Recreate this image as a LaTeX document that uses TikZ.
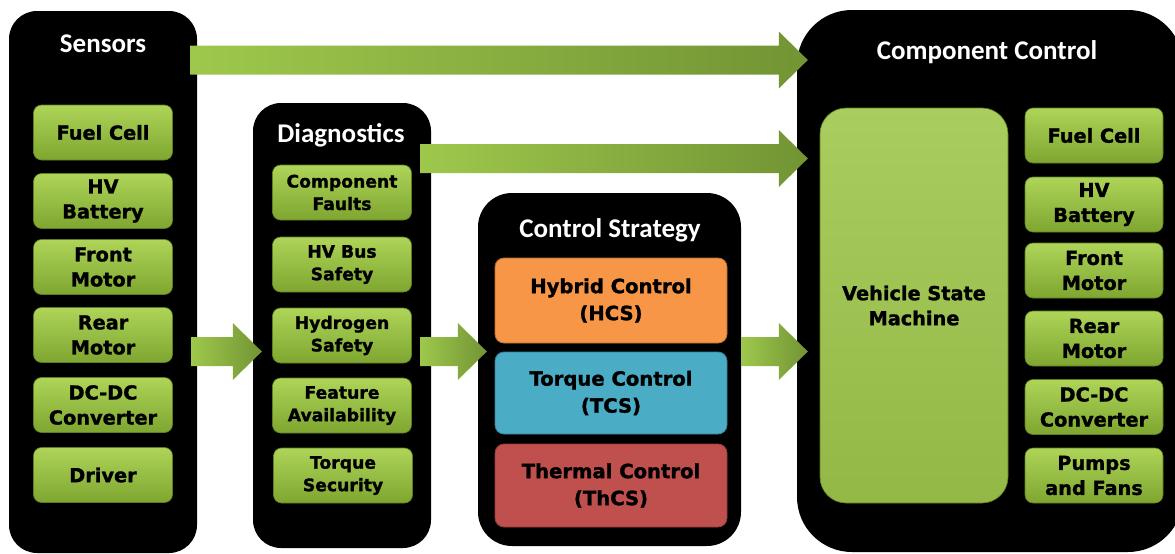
\documentclass[tikz,border=0pt]{standalone}
\usepackage{fontspec}
\usepackage{tikz}
\usetikzlibrary{calc,positioning}
\newfontfamily\titlefont{Carlito}
\newfontfamily\boxfont{DejaVu Sans}[BoldFeatures={FakeBold=1.4}]
\definecolor{boxtop}{RGB}{174,212,88}
\definecolor{boxbot}{RGB}{126,166,48}
\definecolor{vsmgreen}{RGB}{160,200,76}
\definecolor{arrowleft}{RGB}{158,200,76}
\definecolor{arrowright}{RGB}{114,148,52}
\definecolor{hcsorange}{RGB}{247,150,70}
\definecolor{tcsblue}{RGB}{75,172,198}
\definecolor{thcsred}{RGB}{192,80,77}
\newcommand{\boxtxt}{\boxfont\bfseries\fontsize{19.3}{25}\selectfont}
\newcommand{\diagtxt}{\boxfont\bfseries\fontsize{17.2}{22.5}\selectfont}
\newcommand{\strattxt}{\boxfont\bfseries\fontsize{19.6}{27}\selectfont}
% fat green arrow from #1 to its tip #2
\newcommand{\bigarrow}[2]{
\shade[left color=arrowleft, right color=arrowright] let \p1=(#1), \p2=(#2) in
  (\x1,\y1+14.5pt) -- (\x2-29pt,\y1+14.5pt) -- (\x2-29pt,\y1+28.5pt) -- (\x2,\y1)
  -- (\x2-29pt,\y1-28.5pt) -- (\x2-29pt,\y1-14.5pt) -- (\x1,\y1-14.5pt) -- cycle;
}

\begin{document}
\begin{tikzpicture}[x=1pt,y=-1pt,
                    panel/.style={fill=black, inner sep=0pt, rounded corners=28pt},
                    paneltitle/.style={text=white, anchor=base, inner sep=0pt,
                                       font=\titlefont\bfseries\fontsize{27}{30}\selectfont},
                    greenbox/.style={top color=boxtop, bottom color=boxbot, draw=boxbot!75!black,
                                     line width=0.6pt, rounded corners=8pt, inner sep=0pt,
                                     minimum width=139pt, minimum height=55pt,
                                     align=center, font=\boxtxt},
                    diagbox/.style={greenbox, font=\diagtxt},
                    stratbox/.style={draw=#1!75!black, fill=#1, line width=0.8pt, rounded corners=9pt,
                                     inner sep=0pt, minimum width=232pt, minimum height=83pt,
                                     align=center, font=\strattxt},
                   ]

\useasboundingbox (0,0) rectangle (1175,554);

% the four panels
\node[panel, minimum width=188pt, minimum height=542pt] (sensors) at (103,282) {};
\node[panel, minimum width=178pt, minimum height=445pt] (diag) at (342,325.5) {};
\node[panel, minimum width=263pt, minimum height=353pt, rounded corners=34pt] (strat) at (609.5,369.5) {};
\node[panel, minimum width=386pt, minimum height=542pt, rounded corners=55pt] (comp) at (990,281) {};

\node[paneltitle] (sensorstitle) at (103,52) {Sensors};
\node[paneltitle] (diagtitle) at (341,142) {Diagnostics};
\node[paneltitle] (strattitle) at (610,237) {Control Strategy};
\node[paneltitle] (comptitle) at (987,59) {Component Control};

% sensors
\node[greenbox] (sfc) at (103,132.5) {Fuel Cell};
\node[greenbox] (shv) at (103,201) {HV\\Battery};
\node[greenbox] (sfm) at (103,267) {Front\\Motor};
\node[greenbox] (srm) at (103,335) {Rear\\Motor};
\node[greenbox] (sdc) at (103,405) {DC-DC\\Converter};
\node[greenbox] (sdr) at (103,475) {Driver};

% diagnostics
\node[diagbox] (dcf) at (342,192.5) {Component\\Faults};
\node[diagbox] (dhv) at (342,264.5) {HV Bus\\Safety};
\node[diagbox] (dhs) at (342,335.5) {Hydrogen\\Safety};
\node[diagbox] (dfa) at (342,405.5) {Feature\\Availability};
\node[diagbox] (dts) at (343,475.5) {Torque\\Security};

% control strategy
\node[stratbox=hcsorange, minimum height=85pt] (hcs) at (611,300.5) {Hybrid Control\\(HCS)};
\node[stratbox=tcsblue, minimum height=82pt] (tcs) at (611,393) {Torque Control\\(TCS)};
\node[stratbox=thcsred] (thcs) at (611,485.5) {Thermal Control\\(ThCS)};

% component control
\node[greenbox, top color=vsmgreen!90!white, bottom color=vsmgreen!92!black, rounded corners=26pt,
      minimum width=188pt, minimum height=395pt] (vsm) at (914,305.5) {Vehicle State\\Machine};
\node[greenbox, minimum width=138pt] (cfc) at (1094,135.5) {Fuel Cell};
\node[greenbox, minimum width=138pt] (chv) at (1094,204.5) {HV\\Battery};
\node[greenbox, minimum width=138pt] (cfm) at (1094,270.5) {Front\\Motor};
\node[greenbox, minimum width=138pt] (crm) at (1094,338.5) {Rear\\Motor};
\node[greenbox, minimum width=138pt] (cdc) at (1094,407) {DC-DC\\Converter};
\node[greenbox, minimum width=138pt] (cpf) at (1094,475.5) {Pumps\\and Fans};

% arrows
\coordinate (a1s) at ([xshift=-7pt]sensors.east |- 0,60);
\coordinate (a1t) at ([xshift=11pt]comp.west |- 0,60);
\coordinate (a2s) at ([xshift=-11pt]diag.east |- 0,158.5);
\coordinate (a2t) at ([xshift=11pt]comp.west |- 0,158.5);
\coordinate (a3s) at ([xshift=-6pt]sensors.east |- 0,351.5);
\coordinate (a3t) at ([xshift=9pt]diag.west |- 0,351.5);
\coordinate (a4s) at ([xshift=-11pt]diag.east |- 0,351.5);
\coordinate (a4t) at ([xshift=9pt]strat.west |- 0,351.5);
\coordinate (a5s) at ([xshift=0pt]strat.east |- 0,351.5);
\coordinate (a5t) at ([xshift=11pt]comp.west |- 0,351.5);

\bigarrow{a1s}{a1t}
\bigarrow{a2s}{a2t}
\bigarrow{a3s}{a3t}
\bigarrow{a4s}{a4t}
\bigarrow{a5s}{a5t}

\end{tikzpicture}
\end{document}
